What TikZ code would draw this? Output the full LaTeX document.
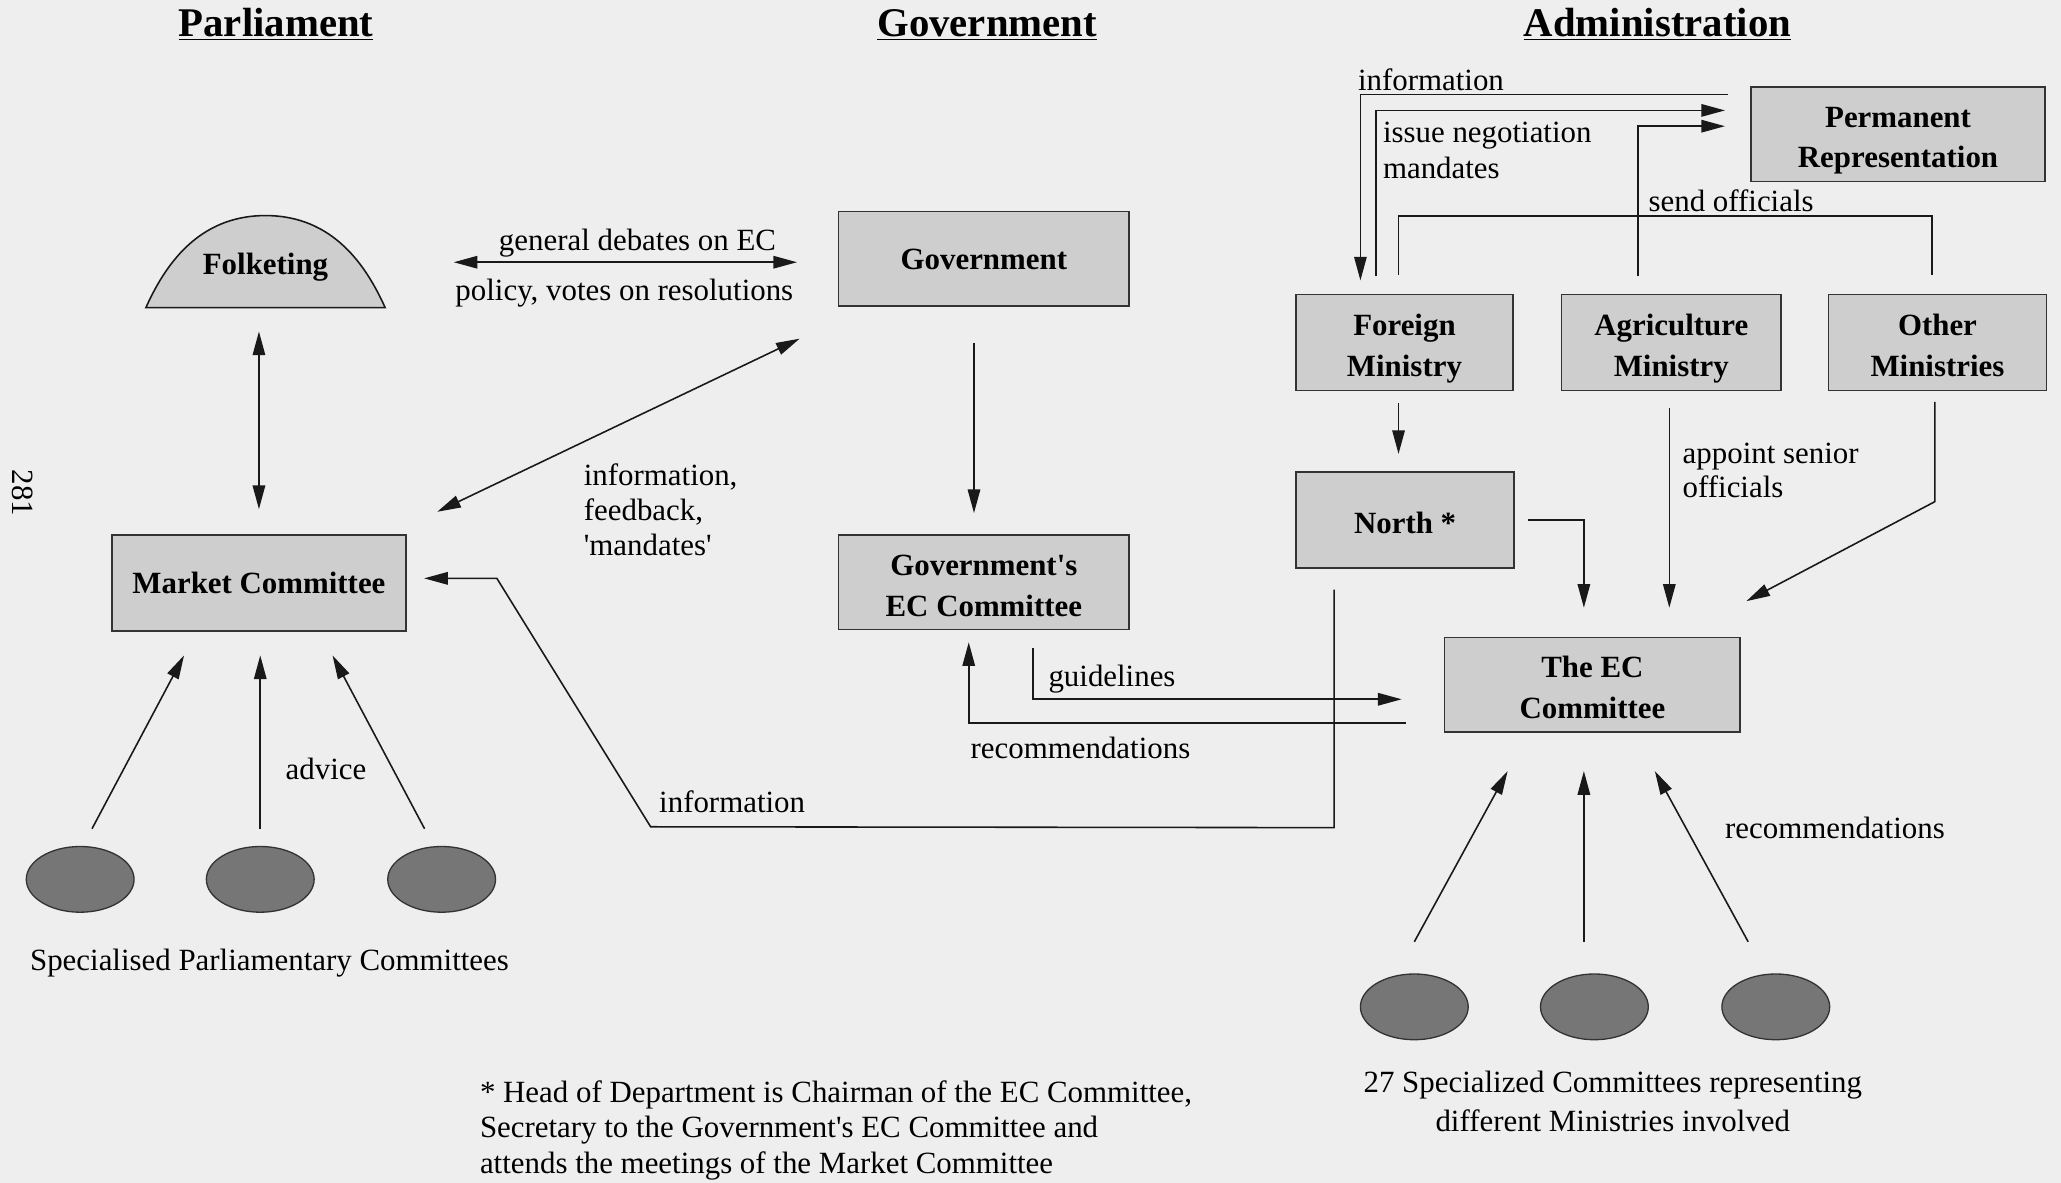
\documentclass[tikz,border=0pt]{standalone}
\usepackage{fontspec}
\setmainfont{Liberation Serif}
\usetikzlibrary{arrows.meta,calc,shapes.geometric}
\definecolor{bgc}{RGB}{238,238,238}
\definecolor{boxc}{RGB}{206,206,206}
\definecolor{ellc}{RGB}{118,118,118}
\newcommand\mytwo[2]{\raisebox{-4pt}[\height][\depth]{\begin{tabular}{@{}c@{}}#1\\#2\end{tabular}}}
\begin{document}
\begin{tikzpicture}[x=1pt,y=-1pt,
  box/.style={draw=black!80, fill=boxc, line width=1.3pt, font=\bfseries\fontsize{23.5}{31}\selectfont, align=center, inner sep=0pt},
  lbl/.style={font=\fontsize{23.5}{27}\selectfont, inner sep=0pt},
  head/.style={font=\bfseries\fontsize{31}{36}\selectfont, inner sep=0pt, anchor=base},
  comm/.style={ellipse, draw=black!80, fill=ellc, line width=1pt, minimum width=82pt, minimum height=50pt, inner sep=0pt},
  ln/.style={line width=1.2pt, draw=black!90},
  arr/.style={ln, -{Triangle[length=18pt,width=9.5pt]}},
  dbl/.style={ln, {Triangle[length=18pt,width=9.5pt]}-{Triangle[length=18pt,width=9.5pt]}},
]
\fill[bgc] (0,0) rectangle (1568,900);
\useasboundingbox (0,0) rectangle (1568,900);

% headings
\node[head] (h1) at (210,28) {\underline{Parliament}};
\node[head] (h2) at (751,28) {\underline{Government}};
\node[head] (h3) at (1261,28) {\underline{Administration}};

% page number
\node[lbl, rotate=-90] (pg) at (17,375) {281};

% Folketing dome
\draw[ln, fill=boxc] (111,234) .. controls (125,203) and (150,164) .. (202,164)
  .. controls (254,164) and (279,203) .. (293,234) -- cycle;
\node[inner sep=0pt, minimum width=182pt, minimum height=69pt, font=\bfseries\fontsize{23.5}{31}\selectfont] (folk) at (202,199.5) {\raisebox{-4pt}[\height][\depth]{Folketing}};

% boxes
\node[box, minimum width=221pt, minimum height=72pt] (gov) at (748.5,197) {Government};
\node[box, minimum width=224pt, minimum height=73pt] (mc) at (197,443.5) {Market Committee};
\node[box, minimum width=221pt, minimum height=72pt] (gec) at (748.5,443) {\mytwo{Government\textquotesingle s}{EC Committee}};
\node[box, minimum width=224pt, minimum height=72pt] (pr) at (1444,102) {\mytwo{Permanent}{Representation}};
\node[box, minimum width=165pt, minimum height=73pt] (fm) at (1068.5,260.5) {\mytwo{Foreign}{Ministry}};
\node[box, minimum width=167pt, minimum height=73pt] (am) at (1271.5,260.5) {\mytwo{Agriculture}{Ministry}};
\node[box, minimum width=166pt, minimum height=73pt] (om) at (1474,260.5) {\mytwo{Other}{Ministries}};
\node[box, minimum width=166pt, minimum height=73pt] (north) at (1069,395.5) {\raisebox{-2pt}[\height][\depth]{North *}};
\node[box, minimum width=225pt, minimum height=72pt] (ec) at (1211.5,521) {\mytwo{The EC}{Committee}};

% committees
\node[comm] (c1) at (61,669) {};
\node[comm] (c2) at (198,669) {};
\node[comm] (c3) at (336,669) {};
\node[comm] (d1) at (1076,766) {};
\node[comm] (d2) at (1213,766) {};
\node[comm] (d3) at (1351,766) {};

% labels
\node[lbl] (l1) at (485,185) {general debates on EC};
\node[lbl] (l2) at (475,223) {policy, votes on resolutions};
\node[lbl, anchor=west, align=left, font=\fontsize{23.5}{26.5}\selectfont] (lfeed) at (444,388) {information,\\feedback,\\\textquotesingle mandates\textquotesingle};
\node[lbl] (ladv) at (248,585) {advice};
\node[lbl] (cap1) at (205,733) {Specialised Parliamentary Committees};
\node[lbl] (linfo2) at (557,610) {information};
\node[lbl] (lguide) at (846,517) {guidelines};
\node[lbl] (lrec1) at (822,569) {recommendations};
\node[lbl, anchor=west] (linfo) at (1033,61) {information};
\node[lbl, anchor=west, align=left] (lmand) at (1052,114.5) {issue negotiation\\mandates};
\node[lbl] (lsend) at (1317,153) {send officials};
\node[lbl, anchor=west, align=left, font=\fontsize{23.5}{26}\selectfont] (lapp) at (1280,358) {appoint senior\\officials};
\node[lbl] (lrec2) at (1396,630) {recommendations};
\node[lbl, align=center, font=\fontsize{23.5}{30}\selectfont] (cap2) at (1227,838) {27 Specialized Committees representing\\different Ministries involved};
\node[lbl, anchor=west, align=left] (foot) at (365,860) {* Head of Department is Chairman of the EC Committee,\\Secretary to the Government\textquotesingle s EC Committee and\\attends the meetings of the Market Committee};

% connectors - parliament / government
\draw[dbl, shorten <=18pt, shorten >=19pt] (folk.south -| mc.north) -- (mc.north);
\draw[dbl, shorten <=52pt, shorten >=31pt] (folk.east) -- (folk.east -| gov.west);
\draw[dbl] ($(mc.north east)+(23,-17)$) -- ($(gov.south west)+(-29,24)$);
\draw[arr, shorten <=27pt, shorten >=16pt] ([xshift=-7.5pt]gov.south) -- ([xshift=-7.5pt]gec.north);
\draw[arr] ($(north.south)+(-54,16)$) -- ($(north.south)+(-54,197)$) -- (495,629) -- (378,440) -- ($(mc.east)+(13,-3.5)$);
\draw[arr] ($(gec.south)+(37.5,13)$) |- ($(ec.west)+(-32,11)$);
\draw[arr] ($(ec.west)+(-29,29)$) -| ($(gec.south)+(-11.5,9)$);

% administration
\draw[arr, shorten <=9pt, shorten >=13pt] ([xshift=-4.5pt]fm.south) -- ([xshift=-4.5pt]fm.south |- north.north);
\draw[arr] ($(north.east)+(10,0)$) -| ($(ec.north)+(-6.5,-22)$);
\draw[arr, shorten <=13pt, shorten >=22pt] ([xshift=-1.5pt]am.south) -- ([xshift=-1.5pt]am.south |- ec.north);
\draw[arr] ($(om.south)+(-2,8)$) -- ($(om.south)+(-2,84)$) -- ($(ec.north east)+(4,-27)$);

\draw[arr] ($(pr.west)+(-17,-30)$) -| ($(fm.north)+(-33.5,-10)$);
\draw[arr] ($(fm.north)+(-21.5,-13)$) |- ($(pr.west)+(-19,-18)$);
\draw[arr] ($(am.north)+(-25.5,-13)$) |- ($(pr.west)+(-19,-6)$);
\draw[ln] ($(fm.north)+(-4.5,-14)$) |- ($(om.north)+(-4,-59)$) -- ($(om.north)+(-4,-14)$);

% committee arrows
\draw[arr] ($(c1.north)+(9,-13)$) -- ($(mc.south)+(-57,18)$);
\draw[arr] ($(c2.north)+(0,-13)$) -- ($(mc.south)+(1,18)$);
\draw[arr] ($(c3.north)+(-13,-13)$) -- ($(mc.south)+(56,18)$);
\draw[arr] ($(d1.north)+(0,-24)$) -- ($(ec.south)+(-64.5,29)$);
\draw[arr] ($(d2.north)+(-8,-24)$) -- ($(ec.south)+(-6.5,29)$);
\draw[arr] ($(d3.north)+(-21,-24)$) -- ($(ec.south)+(47.5,29)$);
\end{tikzpicture}
\end{document}
